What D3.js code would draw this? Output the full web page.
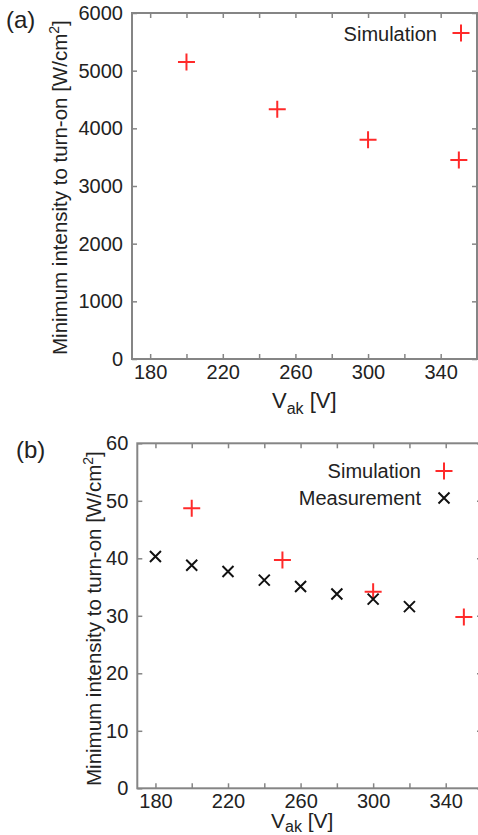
<!DOCTYPE html>
<html>
<head>
<meta charset="utf-8">
<script src="https://cdn.jsdelivr.net/npm/d3@7"></script>
<style>
  html, body { margin: 0; padding: 0; background: #fff; }
  svg { display: block; }
  text { font-family: "Liberation Sans", Arial, Helvetica, sans-serif; fill: #222; }
</style>
</head>
<body>
<script>
// ---- data ----
const xTicks = [180, 200, 220, 240, 260, 280, 300, 320, 340];
const xTickLabels = [180, 220, 260, 300, 340];
const yTicksA = [0, 1000, 2000, 3000, 4000, 5000, 6000];
const yTicksB = [0, 10, 20, 30, 40, 50, 60];

const simA_V = [200, 250, 300, 350];
const simA_I = [5150, 4330, 3800, 3450];

const simB_V = [200, 250, 300, 350];
const simB_I = [48.7, 39.7, 34.2, 29.8];

const measB_V = [180, 200, 220, 240, 260, 280, 300, 320];
const measB_I = [40.3, 38.8, 37.7, 36.2, 35.1, 33.8, 32.9, 31.6];

const yLabelText = "Minimum intensity to turn-on [W/cm";

// ---- drawing ----
const W = 478, H = 835;
const svg = d3.select("body").append("svg").attr("width", W).attr("height", H);

const AXIS_COLOR = "#858585";
const RED = "#ff2a2a";
const BLACK = "#111";

function panel(cfg) {
  const x = d3.scaleLinear().domain([170, 360]).range([cfg.left, cfg.right]);
  const y = d3.scaleLinear().domain(cfg.yDomain).range([cfg.bottom, cfg.top]);
  const g = svg.append("g");

  const tickLen = 5;
  const bottomAxis = d3.axisBottom(x).tickValues(xTicks).tickSizeInner(-tickLen).tickSizeOuter(0)
    .tickPadding(cfg.xPad).tickFormat(d => xTickLabels.includes(d) ? d : "");
  const gb = g.append("g").attr("transform", `translate(0,${cfg.bottom})`).call(bottomAxis);
  const topAxis = d3.axisTop(x).tickValues(xTicks).tickSizeInner(-tickLen).tickSizeOuter(0).tickFormat("");
  const gt = g.append("g").attr("transform", `translate(0,${cfg.top})`).call(topAxis);
  const leftAxis = d3.axisLeft(y).tickValues(cfg.yTicks).tickSizeInner(-tickLen).tickSizeOuter(0)
    .tickPadding(9).tickFormat(d3.format("d"));
  const gl = g.append("g").attr("transform", `translate(${cfg.left},0)`).call(leftAxis);
  const rightAxis = d3.axisRight(y).tickValues(cfg.yTicks).tickSizeInner(-tickLen).tickSizeOuter(0).tickFormat("");
  const gr = g.append("g").attr("transform", `translate(${cfg.right},0)`).call(rightAxis);

  [gb, gt, gl, gr].forEach(a => {
    a.select(".domain").remove();
    a.selectAll(".tick line").attr("stroke", AXIS_COLOR).attr("stroke-width", 1.5);
    a.selectAll(".tick text").attr("font-size", 20).attr("fill", "#222")
      .attr("font-family", '"Liberation Sans", Arial, sans-serif');
  });
  gb.selectAll(".tick text").attr("dy", "0.72em");

  g.append("rect")
    .attr("x", cfg.left).attr("y", cfg.top)
    .attr("width", cfg.right - cfg.left).attr("height", cfg.bottom - cfg.top)
    .attr("fill", "none").attr("stroke", AXIS_COLOR).attr("stroke-width", 2);

  const yl = g.append("text")
    .attr("transform", `translate(${cfg.yLabelX},${cfg.yLabelBottom}) rotate(-90)`)
    .attr("text-anchor", "start").attr("font-size", 20.5);
  yl.append("tspan").text(yLabelText);
  yl.append("tspan").attr("dy", -8).attr("font-size", 14).text("2");
  yl.append("tspan").attr("dy", 8).text("]");

  const xl = g.append("text").attr("x", cfg.xLabelX).attr("y", cfg.xLabelY).attr("font-size", cfg.xLabelSize);
  xl.append("tspan").text("V");
  xl.append("tspan").attr("dy", cfg.subShift).attr("font-size", 16).text("ak");
  xl.append("tspan").attr("dy", -cfg.subShift).text(" [V]");

  g.append("text").attr("x", cfg.tagX).attr("y", cfg.tagY)
    .attr("font-family", '"Liberation Serif", "Times New Roman", serif')
    .attr("font-size", 24).attr("fill", "#000").text(cfg.tag);

  return { g, x, y };
}

function plus(g, cx, cy, r, color) {
  g.append("path")
    .attr("d", `M${cx - r},${cy}H${cx + r}M${cx},${cy - r}V${cy + r}`)
    .attr("stroke", color).attr("stroke-width", 2).attr("fill", "none");
}
function cross(g, cx, cy, r, color) {
  g.append("path")
    .attr("d", `M${cx - r},${cy - r}L${cx + r},${cy + r}M${cx - r},${cy + r}L${cx + r},${cy - r}`)
    .attr("stroke", color).attr("stroke-width", 2).attr("fill", "none");
}

// Panel (a)
const A = panel({
  left: 132, right: 477, top: 13, bottom: 359,
  yDomain: [0, 6000], yTicks: yTicksA, xPad: 6,
  yLabelX: 67, yLabelBottom: 355,
  xLabelX: 272, xLabelY: 408, xLabelSize: 22, subShift: 6,
  tag: "(a)", tagX: 6, tagY: 28
});
simA_V.forEach((v, i) => plus(A.g, A.x(v), A.y(simA_I[i]), 8.5, RED));
A.g.append("text").attr("x", 437).attr("y", 40.5).attr("text-anchor", "end")
  .attr("font-size", 20).text("Simulation");
plus(A.g, 461, 33, 8.5, RED);

// Panel (b)
const B = panel({
  left: 137.3, right: 482, top: 443.3, bottom: 788.3,
  yDomain: [0, 60], yTicks: yTicksB, xPad: 5,
  yLabelX: 101, yLabelBottom: 786,
  xLabelX: 271, xLabelY: 828, xLabelSize: 21, subShift: 4,
  tag: "(b)", tagX: 16, tagY: 458
});
simB_V.forEach((v, i) => plus(B.g, B.x(v), B.y(simB_I[i]), 8.5, RED));
measB_V.forEach((v, i) => cross(B.g, B.x(v), B.y(measB_I[i]), 5.5, BLACK));
B.g.append("text").attr("x", 421).attr("y", 478).attr("text-anchor", "end")
  .attr("font-size", 20).text("Simulation");
plus(B.g, 444, 471, 8.5, RED);
B.g.append("text").attr("x", 421).attr("y", 505).attr("text-anchor", "end")
  .attr("font-size", 20).text("Measurement");
cross(B.g, 444, 498, 5.5, BLACK);
</script>
</body>
</html>
